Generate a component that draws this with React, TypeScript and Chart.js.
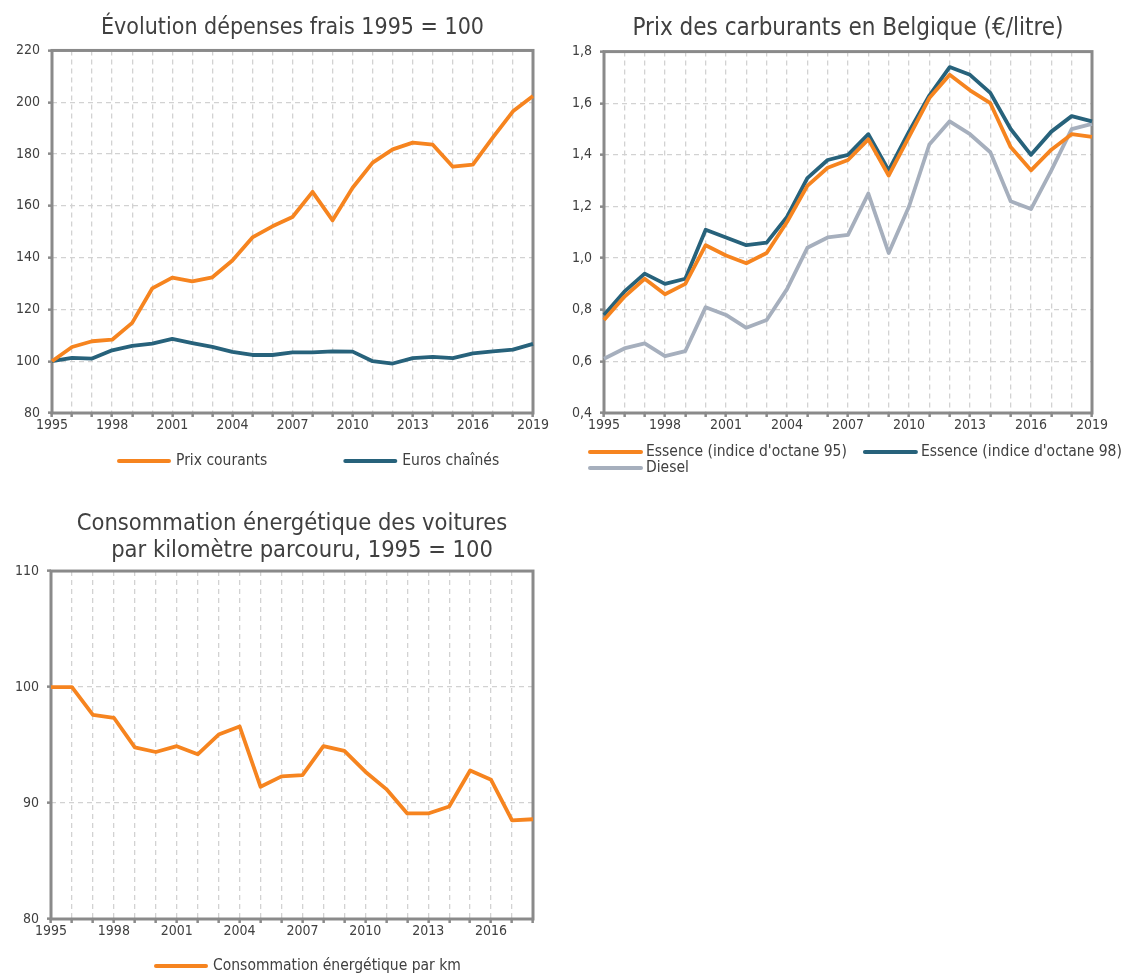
import React, { useEffect, useRef } from "react";
import { Chart, registerables } from "chart.js";

Chart.register(...registerables);

// ---------- data ----------
const years25 = ["1995","1996","1997","1998","1999","2000","2001","2002","2003","2004","2005","2006","2007","2008","2009","2010","2011","2012","2013","2014","2015","2016","2017","2018","2019"];
const years24 = ["1995","1996","1997","1998","1999","2000","2001","2002","2003","2004","2005","2006","2007","2008","2009","2010","2011","2012","2013","2014","2015","2016","2017","2018"];

const prixCourants = [100, 105.5, 107.7, 108.3, 114.8, 128.1, 132.3, 130.8, 132.4, 138.9, 147.8, 152.1, 155.7, 165.4, 154.4, 167.0, 176.7, 181.8, 184.4, 183.6, 175.1, 175.9, 186.4, 196.5, 202.4];
const eurosChaines = [100, 101.3, 101.0, 104.2, 105.9, 106.8, 108.6, 107.0, 105.5, 103.6, 102.4, 102.4, 103.4, 103.4, 103.8, 103.7, 100.0, 99.1, 101.2, 101.7, 101.2, 103.0, 103.8, 104.5, 106.7];

const essence95 = [0.76, 0.85, 0.92, 0.86, 0.90, 1.05, 1.01, 0.98, 1.02, 1.14, 1.28, 1.35, 1.38, 1.46, 1.32, 1.47, 1.62, 1.71, 1.65, 1.60, 1.43, 1.34, 1.42, 1.48, 1.47];
const essence98 = [0.78, 0.87, 0.94, 0.90, 0.92, 1.11, 1.08, 1.05, 1.06, 1.16, 1.31, 1.38, 1.40, 1.48, 1.34, 1.49, 1.63, 1.74, 1.71, 1.64, 1.50, 1.40, 1.49, 1.55, 1.53];
const diesel = [0.61, 0.65, 0.67, 0.62, 0.64, 0.81, 0.78, 0.73, 0.76, 0.88, 1.04, 1.08, 1.09, 1.25, 1.02, 1.20, 1.44, 1.53, 1.48, 1.41, 1.22, 1.19, 1.34, 1.50, 1.52];

const consoParKm = [100, 100, 97.6, 97.35, 94.8, 94.4, 94.9, 94.2, 95.9, 96.6, 91.4, 92.3, 92.4, 94.9, 94.5, 92.7, 91.2, 89.1, 89.1, 89.7, 92.8, 92.0, 88.5, 88.6];

const title1 = "Évolution dépenses frais 1995 = 100";
const title2 = "Prix des carburants en Belgique (€/litre)";
const title3 = ["Consommation énergétique des voitures", "   par kilomètre parcouru, 1995 = 100"];

const label1a = "Prix courants";
const label1b = "Euros chaînés";
const label2a = "Essence (indice d'octane 95)";
const label2b = "Essence (indice d'octane 98)";
const label2c = "Diesel";
const label3 = "Consommation énergétique par km";

// ---------- styles ----------
const FONT = "'DejaVu Sans Condensed', 'DejaVu Sans', sans-serif";
const TEXT = "#404040";
const AXIS = "#8a8a8a";
const GRID = "#d2d2d2";
const ORANGE = "#f6841f";
const TEAL = "#27627b";
const GREYBLUE = "#a6afbd";

const framePlugin = {
  id: "frame",
  beforeDatasetsDraw(chart: any) {
    const { ctx, chartArea: a } = chart;
    ctx.save();
    ctx.strokeStyle = AXIS;
    ctx.lineWidth = 3;
    ctx.setLineDash([]);
    ctx.strokeRect(a.left, a.top, a.right - a.left, a.bottom - a.top);
    ctx.restore();
  },
};

const lineLegendPlugin = {
  id: "lineLegend",
  afterDraw(chart: any, _args: any, opts: any) {
    const { ctx, chartArea } = chart;
    const ds = chart.data.datasets;
    ctx.save();
    ctx.font = `${opts.size}px ${FONT}`;
    ctx.textBaseline = "middle";
    ctx.textAlign = "left";
    const startX = chartArea.left + opts.dx;
    let x = startX;
    let y = chartArea.bottom + opts.dy;
    ds.forEach((d: any, i: number) => {
      if (opts.breakBefore && opts.breakBefore.includes(i)) {
        x = startX;
        y += opts.rowHeight;
      }
      const tw = ctx.measureText(d.label).width;
      ctx.strokeStyle = d.borderColor;
      ctx.lineWidth = 4;
      ctx.lineCap = "round";
      ctx.beginPath();
      ctx.moveTo(x + 2, y);
      ctx.lineTo(x + opts.sample - 2, y);
      ctx.stroke();
      ctx.fillStyle = TEXT;
      ctx.fillText(d.label, x + opts.sample + opts.textGap, y);
      x += opts.sample + opts.textGap + tw + opts.gap;
    });
    ctx.restore();
  },
};

function lineDs(label: string, data: number[], color: string) {
  return {
    label,
    data,
    borderColor: color,
    backgroundColor: color,
    borderWidth: 3.8,
    pointRadius: 0,
    tension: 0,
    fill: false,
    borderJoinStyle: "round" as const,
  };
}

const gridOpts = {
  color: GRID,
  lineWidth: 1.3,
  drawTicks: true,
  tickLength: 4,
  tickColor: AXIS,
  tickWidth: 2.5,
  tickBorderDash: [],
};

function xScale(labels: string[], h: number) {
  return {
    type: "category" as const,
    offset: false,
    afterFit(s: any) { s.height = h; },
    grid: gridOpts,
    border: { display: false, dash: [5, 4] },
    ticks: {
      autoSkip: false,
      maxRotation: 0,
      minRotation: 0,
      padding: 0,
      color: TEXT,
      font: { family: FONT, size: 14 },
      callback: (_v: any, i: number) => (i % 3 === 0 ? labels[i] : ""),
    },
  };
}

function yScale(min: number, max: number, step: number, w: number, fmt?: (v: number) => string) {
  return {
    min,
    max,
    afterFit(s: any) { s.width = w; },
    grid: gridOpts,
    border: { display: false, dash: [5, 4] },
    ticks: {
      stepSize: step,
      padding: 8,
      color: TEXT,
      font: { family: FONT, size: 14 },
      callback: (v: any) => (fmt ? fmt(Number(v)) : String(v)),
    },
  };
}

function titleOpts(text: string | string[], padBottom: number, lh: number, size: number) {
  return {
    display: true,
    text,
    fullSize: false,
    color: TEXT,
    font: { family: FONT, size, weight: "normal" as const, lineHeight: lh },
    padding: { top: 0, bottom: padBottom },
  };
}

function config1(): any {
  return {
    type: "line",
    data: {
      labels: years25,
      datasets: [lineDs(label1a, prixCourants, ORANGE), lineDs(label1b, eurosChaines, TEAL)],
    },
    plugins: [framePlugin, lineLegendPlugin],
    options: {
      animation: false,
      responsive: false,
      maintainAspectRatio: false,
      layout: { padding: { left: 0, right: 27, top: 15, bottom: 42 } },
      plugins: {
        legend: { display: false },
        tooltip: { enabled: false },
        title: titleOpts(title1, 9, 1.15, 23),
        lineLegend: { size: 15.5, dx: 65, dy: 48, sample: 54, textGap: 5, gap: 76, rowHeight: 16 },
      },
      scales: {
        x: xScale(years25, 25),
        y: yScale(80, 220, 20, 52),
      },
    },
  };
}

function config2(): any {
  return {
    type: "line",
    data: {
      labels: years25,
      datasets: [
        lineDs(label2a, essence95, ORANGE),
        lineDs(label2b, essence98, TEAL),
        lineDs(label2c, diesel, GREYBLUE),
      ],
    },
    plugins: [framePlugin, lineLegendPlugin],
    options: {
      animation: false,
      responsive: false,
      maintainAspectRatio: false,
      layout: { padding: { left: 0, right: 31, top: 15, bottom: 42 } },
      plugins: {
        legend: { display: false },
        tooltip: { enabled: false },
        title: titleOpts(title2, 9, 1.15, 24),
        lineLegend: { size: 15.5, dx: -16, dy: 39, sample: 55, textGap: 3, gap: 16, rowHeight: 16, breakBefore: [2] },
      },
      scales: {
        x: xScale(years25, 25),
        y: yScale(0.4, 1.8, 0.2, 44, (v) => v.toFixed(1).replace(".", ",")),
      },
    },
  };
}

function config3(): any {
  return {
    type: "line",
    data: {
      labels: years24,
      datasets: [lineDs(label3, consoParKm, ORANGE)],
    },
    plugins: [framePlugin, lineLegendPlugin],
    options: {
      animation: false,
      responsive: false,
      maintainAspectRatio: false,
      layout: { padding: { left: 0, right: 27, top: 20, bottom: 30 } },
      plugins: {
        legend: { display: false },
        tooltip: { enabled: false },
        title: titleOpts(title3, 7, 1.15, 23.5),
        lineLegend: { size: 15.5, dx: 103, dy: 47, sample: 54, textGap: 5, gap: 20, rowHeight: 16 },
      },
      scales: {
        x: xScale(years24, 25),
        y: yScale(80, 110, 10, 51),
      },
    },
  };
}

function ChartBox(props: { make: () => any; left: number; top: number; width: number; height: number }) {
  const ref = useRef<HTMLCanvasElement | null>(null);
  useEffect(() => {
    if (!ref.current) return;
    const chart = new Chart(ref.current, props.make());
    return () => chart.destroy();
  }, []);
  return (
    <canvas
      ref={ref}
      width={props.width}
      height={props.height}
      style={{ position: "absolute", left: props.left, top: props.top, width: props.width, height: props.height, display: "block" }}
    />
  );
}

export default function App() {
  return (
    <div style={{ position: "absolute", left: 0, top: 0, width: 1123, height: 974, background: "#ffffff", overflow: "hidden" }}>
      <ChartBox make={config1} left={0} top={0} width={560} height={480} />
      <ChartBox make={config2} left={560} top={0} width={563} height={480} />
      <ChartBox make={config3} left={0} top={490} width={560} height={484} />
    </div>
  );
}
